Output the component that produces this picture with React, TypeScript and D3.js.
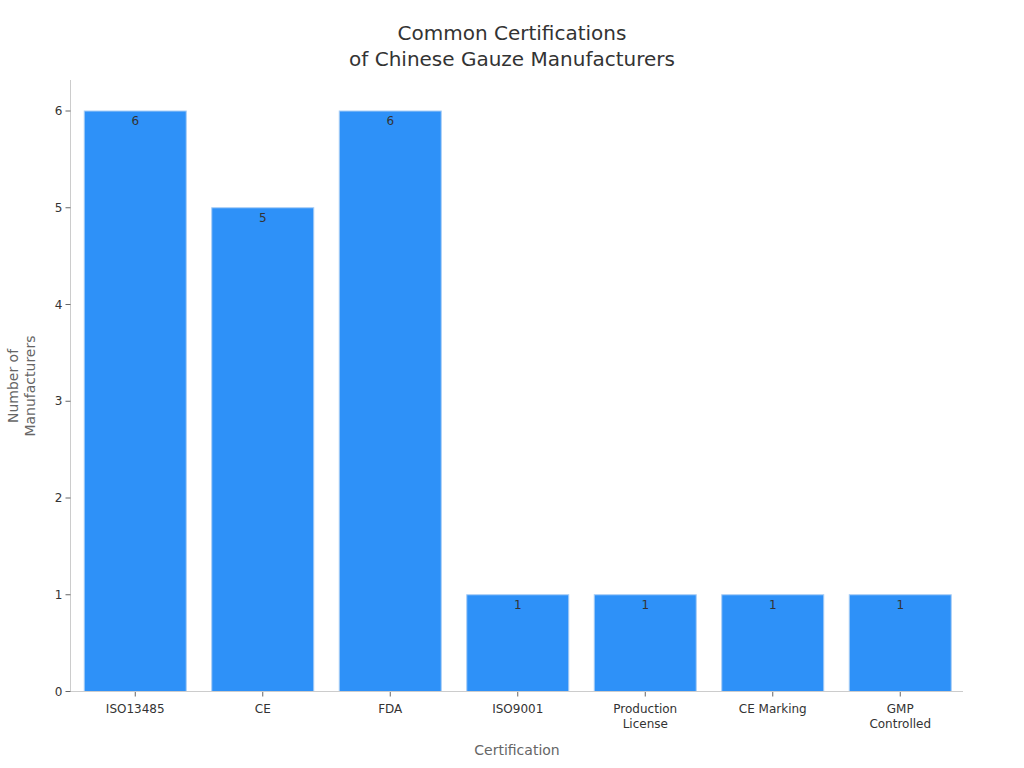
import React from "react";
import * as d3 from "d3";

const categories: string[][] = [
  ["ISO13485"],
  ["CE"],
  ["FDA"],
  ["ISO9001"],
  ["Production", "License"],
  ["CE Marking"],
  ["GMP", "Controlled"],
];
const values: number[] = [6, 5, 6, 1, 1, 1, 1];
const yTicks: number[] = [0, 1, 2, 3, 4, 5, 6];
const titleLines: string[] = ["Common Certifications", "of Chinese Gauze Manufacturers"];
const yLabelLines: string[] = ["Number of", "Manufacturers"];
const xLabel = "Certification";

const W = 1024;
const H = 768;
const left = 70.5;
const right = 963;
const top = 80;
const bottom = 691.5;

export default function App() {
  const keys = categories.map((c) => c.join(" "));
  const x = d3.scaleBand<string>().domain(keys).range([left + 1, right + 1]).paddingInner(0.2).paddingOuter(0.1);
  const y = d3.scaleLinear().domain([0, 6]).range([bottom, 111]);
  const font = "DejaVu Sans, sans-serif";
  return (
    <svg width={W} height={H} style={{ position: "absolute", left: 0, top: 0 }} fontFamily={font}>
      <rect width={W} height={H} fill="#fff" />
      <text textAnchor="middle" fontSize={20} fill="#333">
        {titleLines.map((t, i) => (
          <tspan key={i} x={512} y={40 + i * 26}>{t}</tspan>
        ))}
      </text>
      {keys.map((k, i) => (
        <g key={k}>
          <rect
            x={x(k)!}
            y={y(values[i])}
            width={x.bandwidth()}
            height={y(0) - y(values[i])}
            fill="#2e91f8"
            stroke="#a8cdf5"
            strokeWidth={1}
          />
          <text x={x(k)! + x.bandwidth() / 2} y={y(values[i]) + 14} textAnchor="middle" fontSize={12} fill="#333">
            {values[i]}
          </text>
          <line x1={x(k)! + x.bandwidth() / 2} x2={x(k)! + x.bandwidth() / 2} y1={bottom} y2={bottom + 5} stroke="#666" />
          <text textAnchor="middle" fontSize={12} fill="#333">
            {categories[i].map((t, j) => (
              <tspan key={j} x={x(k)! + x.bandwidth() / 2} y={713 + j * 15}>{t}</tspan>
            ))}
          </text>
        </g>
      ))}
      <line x1={left} x2={left} y1={top} y2={bottom} stroke="#ccc" />
      <line x1={left} x2={right} y1={bottom} y2={bottom} stroke="#ccc" />
      {yTicks.map((t) => (
        <g key={t}>
          <line x1={left - 5} x2={left} y1={y(t)} y2={y(t)} stroke="#666" />
          <text x={left - 8} y={y(t) + 4} textAnchor="end" fontSize={12} fill="#333">{t}</text>
        </g>
      ))}
      <text transform="translate(0,386) rotate(-90)" textAnchor="middle" fontSize={14} fill="#666">
        {yLabelLines.map((t, i) => (
          <tspan key={i} x={0} y={18 + i * 17}>{t}</tspan>
        ))}
      </text>
      <text x={517} y={755} textAnchor="middle" fontSize={14} fill="#666">{xLabel}</text>
    </svg>
  );
}
